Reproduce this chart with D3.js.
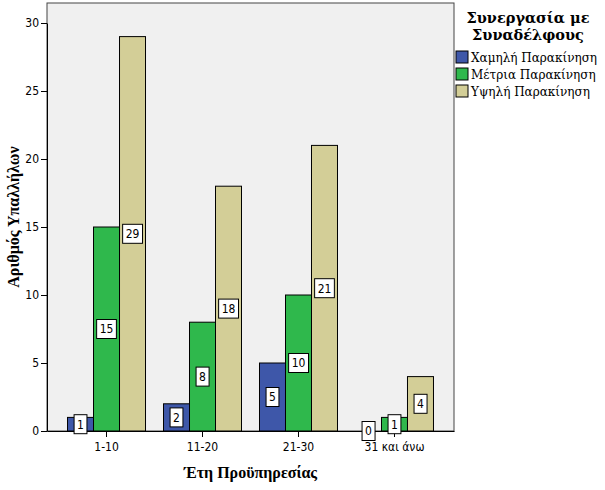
<!DOCTYPE html>
<html>
<head>
<meta charset="utf-8">
<script src="https://cdn.jsdelivr.net/npm/d3@7"></script>
<style>
  body { margin: 0; background: #fff; }
  svg { display: block; }
</style>
</head>
<body>
<svg width="605" height="490"></svg>
<script>
var categories = ["1-10", "11-20", "21-30", "31 και άνω"];
var seriesNames = ["Χαμηλή Παρακίνηση", "Μέτρια Παρακίνηση", "Υψηλή Παρακίνηση"];
var lowValues = [1, 2, 5, 0];
var midValues = [15, 8, 10, 1];
var highValues = [29, 18, 21, 4];
var yTicks = [0, 5, 10, 15, 20, 25, 30];
var colors = ["#3e57a9", "#2fb84c", "#d3ce97"];

var allSeries = [lowValues, midValues, highValues];

var svg = d3.select("svg");
var pLeft = 47, pRight = 454, pTop = 3, pBottom = 431;
var titleFont = "Liberation Serif";

var x = d3.scaleBand().domain(categories).range([pLeft, pRight]).paddingInner(0).paddingOuter(0.12);
var groupW = x.bandwidth() * 0.8125;
var xs = d3.scaleBand().domain(d3.range(3)).range([0, groupW]);
var y = d3.scaleLinear().domain([0, 30]).range([pBottom, 23]);

// plot background
svg.append("rect")
  .attr("x", pLeft).attr("y", pTop)
  .attr("width", pRight - pLeft).attr("height", pBottom - pTop)
  .attr("fill", "#f0f0f0")
  .attr("stroke", "#444").attr("stroke-width", 1);

var data = [];
categories.forEach(function(c, i) {
  allSeries.forEach(function(s, j) {
    data.push({cat: c, s: j, v: s[i]});
  });
});

function bx(d) { return x(d.cat) + (x.bandwidth() - groupW) / 2 + xs(d.s); }

svg.append("g").selectAll("rect")
  .data(data.filter(function(d) { return d.v > 0; }))
  .enter().append("rect")
  .attr("x", bx)
  .attr("y", function(d) { return y(d.v); })
  .attr("width", xs.bandwidth())
  .attr("height", function(d) { return y(0) - y(d.v); })
  .attr("fill", function(d) { return colors[d.s]; })
  .attr("stroke", "#000").attr("stroke-width", 1);

// y axis
var yAxis = svg.append("g")
  .attr("transform", "translate(" + pLeft + ",0)")
  .call(d3.axisLeft(y).tickValues(yTicks).tickSize(6).tickPadding(2).tickSizeOuter(0));
yAxis.select(".domain").attr("stroke", "#000");
yAxis.selectAll("text").attr("font-family", "DejaVu Sans Condensed").attr("font-size", 12).attr("fill", "#000");

// x axis
var xAxis = svg.append("g")
  .attr("transform", "translate(0," + pBottom + ")")
  .call(d3.axisBottom(x).tickSize(6).tickPadding(5).tickSizeOuter(0));
xAxis.select(".domain").attr("stroke", "#000");
xAxis.selectAll("text").attr("font-family", "DejaVu Sans Condensed").attr("font-size", 12).attr("fill", "#000");

// value labels
var lab = svg.append("g").selectAll("g")
  .data(data)
  .enter().append("g")
  .attr("transform", function(d) {
    return "translate(" + (bx(d) + xs.bandwidth() / 2) + "," + ((y(d.v) + y(0)) / 2) + ")";
  });
lab.append("text")
  .attr("text-anchor", "middle").attr("dy", "0.36em")
  .attr("font-family", "DejaVu Sans Condensed").attr("font-size", 12)
  .text(function(d) { return d.v; });
lab.insert("rect", "text")
  .each(function() {
    var t = this.parentNode.querySelector("text").getBBox();
    d3.select(this)
      .attr("x", t.x - 3).attr("y", -9.5)
      .attr("width", t.width + 6).attr("height", 19)
      .attr("fill", "#fff").attr("stroke", "#000").attr("stroke-width", 1);
  });

// axis titles
svg.append("text")
  .attr("transform", "translate(19," + ((pTop + pBottom) / 2) + ") rotate(-90)")
  .attr("text-anchor", "middle")
  .attr("font-family", titleFont).attr("font-weight", "bold").attr("font-size", 16)
  .text("Αριθμός Υπαλλήλων");
svg.append("text")
  .attr("x", (pLeft + pRight) / 2).attr("y", 478)
  .attr("text-anchor", "middle")
  .attr("font-family", titleFont).attr("font-weight", "bold").attr("font-size", 16)
  .text("Έτη Προϋπηρεσίας");

// legend
var lg = svg.append("g");
lg.append("text")
  .attr("x", 528).attr("y", 23)
  .attr("text-anchor", "middle")
  .attr("font-family", "DejaVu Serif").attr("font-weight", "bold").attr("font-size", 14.5)
  .selectAll("tspan").data(["Συνεργασία με", "Συναδέλφους"])
  .enter().append("tspan")
  .attr("x", 528).attr("dy", function(d, i) { return i ? 17 : 0; })
  .text(function(d) { return d; });
var li = lg.selectAll("g.item").data(seriesNames).enter().append("g")
  .attr("transform", function(d, i) { return "translate(456," + (51 + i * 17) + ")"; });
li.append("rect").attr("width", 12).attr("height", 12)
  .attr("fill", function(d, i) { return colors[i]; })
  .attr("stroke", "#000");
li.append("text").attr("x", 15).attr("y", 10.5)
  .attr("font-family", "DejaVu Serif").attr("font-size", 12)
  .text(function(d) { return d; });
</script>
</body>
</html>
